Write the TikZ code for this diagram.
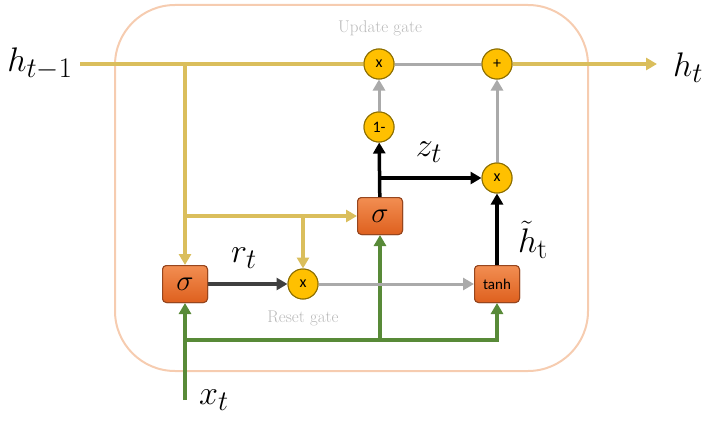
\documentclass[tikz,border=0pt]{standalone}
\usepackage{fontspec}
\newfontfamily\carl{Carlito}
\usetikzlibrary{arrows.meta}
\newcommand\biglab[1]{\scalebox{1.37}{\fontsize{24.88}{30}\selectfont$#1$}}
\newcommand\sig{\scalebox{1.4}{$\sigma$}}
\definecolor{yel}{RGB}{218,190,92}
\definecolor{grn}{RGB}{88,138,56}
\definecolor{gry}{RGB}{170,170,170}
\definecolor{dgry}{RGB}{64,64,64}
\definecolor{peach}{RGB}{246,204,176}
\definecolor{otop}{RGB}{242,142,82}
\definecolor{obot}{RGB}{222,96,30}
\definecolor{oedge}{RGB}{150,70,30}
\definecolor{cfill}{RGB}{255,192,0}
\definecolor{cedge}{RGB}{140,110,0}
\definecolor{lbl}{RGB}{185,185,185}
\tikzset{
  gbox/.style={draw=oedge, line width=1pt, rounded corners=4pt, top color=otop, bottom color=obot,
    minimum width=45pt, minimum height=37pt, inner sep=0pt, font=\fontsize{20.74}{24}\selectfont},
  op/.style={circle, draw=cedge, line width=1pt, fill=cfill, minimum size=30pt, inner sep=0pt,
    font=\carl\fontsize{16}{18}\selectfont},
  tip/.style={-{Triangle[length=11pt,width=12pt]}},
  yline/.style={draw=yel, line width=3.5pt},
  gline/.style={draw=grn, line width=3.5pt},
  kline/.style={draw=black, line width=3.5pt},
  dline/.style={draw=dgry, line width=3.5pt},
  sline/.style={draw=gry, line width=3pt},
  mlab/.style={inner sep=0pt},
  glab/.style={text=lbl, font=\fontsize{17}{20}\selectfont, inner sep=0pt}
}
\begin{document}
\begin{tikzpicture}[x=1pt,y=-1pt]
\useasboundingbox (0,0) rectangle (706,420);
\draw[draw=peach, line width=2pt, rounded corners=60pt] (115,5) rectangle (588,371);

\node[gbox] (s1) at (185,284) {\sig};
\node[gbox] (s2) at (380,216) {\sig};
\node[gbox] (th) at (497,284) {\carl\fontsize{15}{17}\selectfont tanh};
\node[op] (rx) at (303,284) {x};
\node[op] (ux) at (379,64) {x};
\node[op] (om) at (379,127) {1-};
\node[op] (zx) at (497,178) {x};
\node[op] (pl) at (497,64) {+};

\coordinate (hin) at (80,64);
\coordinate (hout) at (657,64);
\coordinate (xin) at (185,400);
\coordinate (j1) at (185,64);
\coordinate (j2) at (185,216);
\coordinate (j3) at (303,216);
\coordinate (g1) at (185,340);
\coordinate (g2) at (380,340);
\coordinate (g3) at (497,340);
\coordinate (zb) at (380,178);

% yellow
\draw[yline] (hin) -- (ux);
\draw[yline, tip] (pl) -- (hout);
\draw[yline, tip] (j1) -- (s1);
\draw[yline, tip] (j2) -- (s2);
\draw[yline, tip] (j3) -- (rx);
% green
\draw[gline, tip] (xin) -- (s1);
\draw[gline, tip] (g1) -- (g3) -- (th);
\draw[gline, tip] (g2) -- (s2);
% gray
\draw[sline, tip] (rx) -- (th);
\draw[sline, tip] (om) -- (ux);
\draw[sline] (ux) -- (pl);
\draw[sline, tip] (zx) -- (pl);
% dark / black
\draw[dline, tip] (s1) -- (rx);
\draw[kline, tip] (s2) -- (om);
\draw[kline, tip] (zb) -- (zx);
\draw[kline, tip] (th) -- (zx);

% redraw nodes on top
\node[gbox] at (s1) {\sig};
\node[gbox] at (s2) {\sig};
\node[gbox] at (th) {\carl\fontsize{15}{17}\selectfont tanh};
\node[op] at (rx) {x};
\node[op] at (ux) {x};
\node[op] at (om) {1-};
\node[op] at (zx) {x};
\node[op] at (pl) {+};

% labels
\node[mlab] (lh1) at (40,64) {\biglab{h_{t-1}}};
\node[mlab] (lht) at (688,68) {\biglab{h_t}};
\node[mlab] (lr) at (244,258) {\biglab{r_t}};
\node[mlab] (lz) at (429,152) {\biglab{z_t}};
\node[mlab] (lhh) at (533,240) {\biglab{\tilde{h}_{\mathrm{t}}}};
\node[mlab] (lx) at (214,400) {\biglab{x_t}};
\node[glab] (lu) at (380,28) {Update gate};
\node[glab] (lrg) at (303,318) {Reset gate};
\end{tikzpicture}
\end{document}
